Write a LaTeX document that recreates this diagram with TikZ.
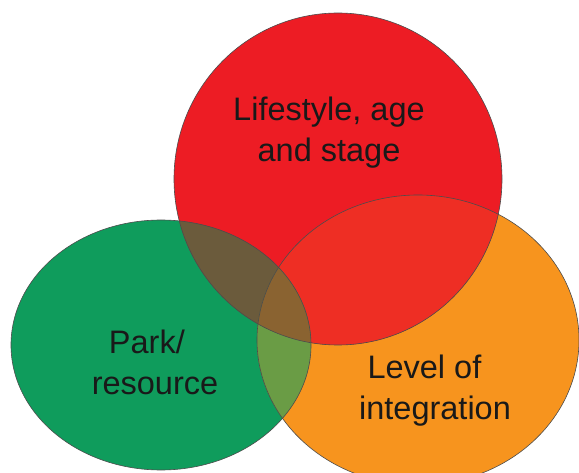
\documentclass[tikz,border=0pt]{standalone}
\usepackage{fontspec}
\setmainfont{Liberation Sans}

\definecolor{lifered}{HTML}{ED1C24}
\definecolor{parkgreen}{HTML}{0F9C5C}
\definecolor{integorange}{HTML}{F7941E}
\definecolor{lifepark}{HTML}{6B5B3C}
\definecolor{lifeinteg}{HTML}{EE2E24}
\definecolor{parkinteg}{HTML}{6A9C45}
\definecolor{allthree}{HTML}{8A6331}

\begin{document}
\begin{tikzpicture}[x=1pt,y=-1pt,
    ring/.style={draw=black!70,line width=0.6pt},
    lbl/.style={align=center,font=\fontsize{32.5}{41}\selectfont,text=black!90}]
\useasboundingbox (0,0) rectangle (579,473);

\coordinate (life) at (338,179);
\coordinate (park) at (161,345);
\coordinate (integ) at (418,340);

% plain fills
\fill[parkgreen] (park) ellipse (150 and 125);
\fill[integorange] (integ) ellipse (161 and 145);
\fill[lifered] (life) ellipse (164 and 166);

% overlaps
\begin{scope}
  \clip (life) ellipse (164 and 166);
  \fill[lifeinteg] (integ) ellipse (161 and 145);
  \fill[lifepark] (park) ellipse (150 and 125);
\end{scope}
\begin{scope}
  \clip (park) ellipse (150 and 125);
  \fill[parkinteg] (integ) ellipse (161 and 145);
  \clip (life) ellipse (164 and 166);
  \fill[allthree] (integ) ellipse (161 and 145);
\end{scope}

% outlines
\draw[ring] (park) ellipse (150 and 125);
\draw[ring] (integ) ellipse (161 and 145);
\draw[ring] (life) ellipse (164 and 166);

\node[lbl] (lifelbl) at (329,133) {Lifestyle, age\\and stage};
\node[lbl] (parklbl) at (155,362) {Park/\hspace*{0.5em}\\resource};
\node[lbl] (integlbl) at (435,391) {Level of\hspace*{0.65em}\\integration};
\end{tikzpicture}
\end{document}
